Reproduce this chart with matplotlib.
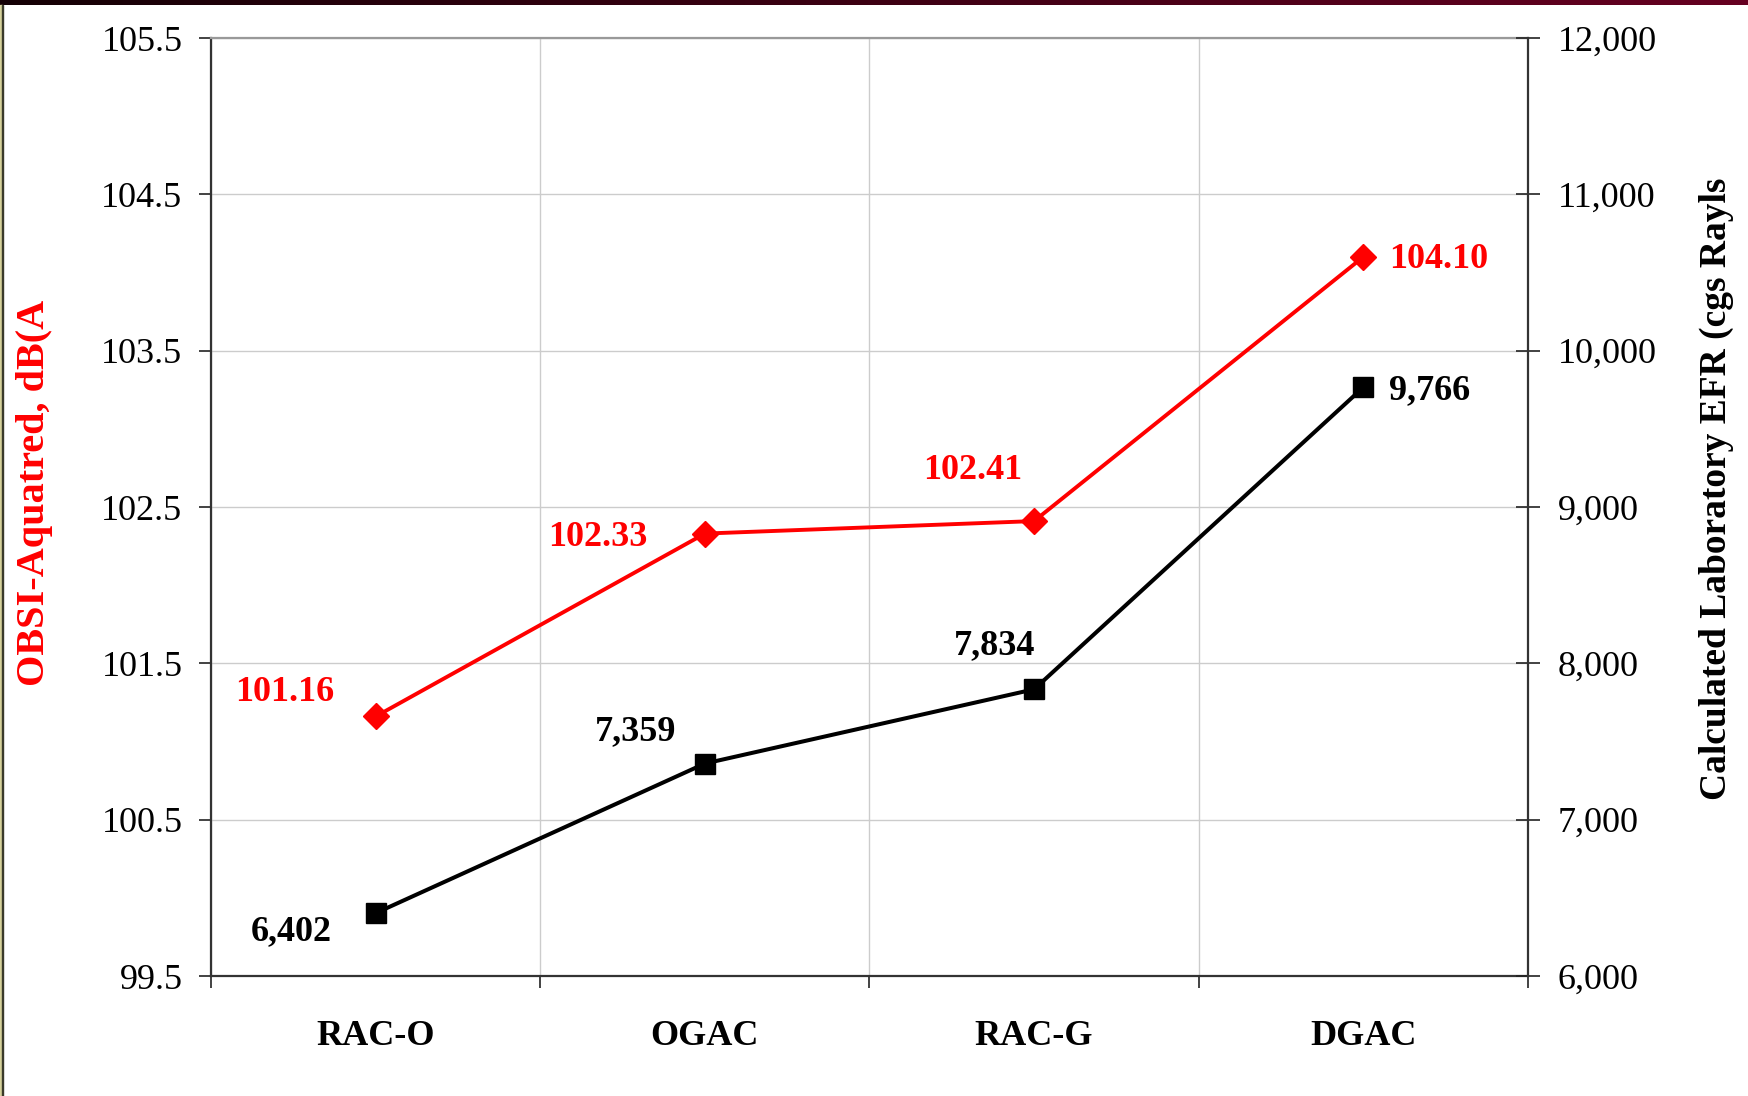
import numpy as np
import matplotlib.pyplot as plt
from matplotlib.ticker import FixedLocator, NullFormatter

plt.rcParams['font.family'] = ['Liberation Serif', 'DejaVu Serif']

# mixes and measured values
categories = ['RAC-O', 'OGAC', 'RAC-G', 'DGAC']
obsi_db = [101.16, 102.33, 102.41, 104.10]
efr_rayls = [6402, 7359, 7834, 9766]

obsi_ticks = [99.5, 100.5, 101.5, 102.5, 103.5, 104.5, 105.5]
efr_ticks = [6000, 7000, 8000, 9000, 10000, 11000, 12000]

# where each value label sits relative to its marker (pixels)
obsi_offsets = [(-91, 24), (-107, -4), (-61, 51), (75, -3)]
efr_offsets = [(-84, -18), (-69, 32), (-40, 44), (66, -3)]

W, H = 1749, 1096
fig = plt.figure(figsize=(W / 100, H / 100), dpi=100)

# slide frame: dark band on top, khaki strip on the left
band = fig.add_axes([0, 1 - 5 / H, 1, 5 / H])
grad = np.linspace(0, 1, 256)
c0 = np.array([0.08, 0.0, 0.02])
c1 = np.array([0.40, 0.0, 0.13])
band.imshow((c0 + (c1 - c0) * grad[:, None])[None, :, :], aspect='auto',
            extent=[0, 1, 0, 1])
band.axis('off')
fig.patches.append(plt.Rectangle((0, 0), 2 / W, 1 - 5 / H, transform=fig.transFigure,
                                 color='#d6d29c', zorder=0))
fig.patches.append(plt.Rectangle((2 / W, 0), 1.2 / W, 1 - 5 / H, transform=fig.transFigure,
                                 color='#3a3a2a', zorder=0))

ax = fig.add_axes([211 / W, 1 - 976 / H, (1528 - 211) / W, (976 - 38) / H])
x = np.arange(len(categories))

ax.set_xlim(-0.5, len(categories) - 0.5)
ax.set_ylim(obsi_ticks[0], obsi_ticks[-1])
ax.set_yticks(obsi_ticks)
ax.set_yticklabels([f'{t:.1f}' for t in obsi_ticks], fontsize=26)
ax.xaxis.set_major_locator(FixedLocator(np.arange(-0.5, len(categories), 1.0)))
ax.xaxis.set_major_formatter(NullFormatter())
ax.set_xticks(x, minor=True)
ax.set_xticklabels(categories, minor=True, fontsize=26, fontweight='bold')
ax.tick_params(axis='x', which='minor', length=0, pad=32)
ax.tick_params(axis='x', which='major', direction='out', length=8.6, width=1.2, color='#222222')
ax.tick_params(axis='y', direction='out', length=8.6, width=1.2, color='#222222', pad=12)
ax.grid(True, which='major', color='#cccccc', lw=1.0)
ax.set_axisbelow(True)

for side in ['left', 'bottom']:
    ax.spines[side].set_color('#333333')
    ax.spines[side].set_linewidth(1.6)
ax.spines['top'].set_color('#999999')
ax.spines['top'].set_linewidth(1.6)
ax.spines['right'].set_visible(False)

ax.plot(x, obsi_db, color='#ff0000', lw=2.8, marker='D', ms=13, zorder=3, clip_on=False)
for xi, v, off in zip(x, obsi_db, obsi_offsets):
    ax.annotate(f'{v:.2f}', (xi, v), xytext=off, textcoords='offset pixels',
                ha='center', va='center', color='#ff0000', fontsize=26, fontweight='bold')

ax2 = ax.twinx()
ax2.set_ylim(efr_ticks[0], efr_ticks[-1])
ax2.set_yticks(efr_ticks)
ax2.set_yticklabels([f'{t:,}' for t in efr_ticks], fontsize=26)
ax2.tick_params(axis='y', direction='inout', length=17, width=1.2, color='#222222', pad=13)
for side in ['left', 'top', 'bottom']:
    ax2.spines[side].set_visible(False)
ax2.spines['right'].set_color('#333333')
ax2.spines['right'].set_linewidth(1.6)

ax2.plot(x, efr_rayls, color='black', lw=2.9, marker='s', ms=15, zorder=3, clip_on=False)
for xi, v, off in zip(x, efr_rayls, efr_offsets):
    ax2.annotate(f'{v:,}', (xi, v), xytext=off, textcoords='offset pixels',
                 ha='center', va='center', color='black', fontsize=26, fontweight='bold')

fig.text(35 / W, 1 - 686 / H, 'OBSI-Aquatred, dB(A', rotation=90, ha='center', va='bottom',
         color='#ff0000', fontsize=29, fontweight='bold')
fig.text(1716 / W, 1 - 800 / H, 'Calculated Laboratory EFR (cgs Rayls', rotation=90,
         ha='center', va='bottom', color='black', fontsize=27, fontweight='bold')

fig.savefig('out.png', dpi=100)
